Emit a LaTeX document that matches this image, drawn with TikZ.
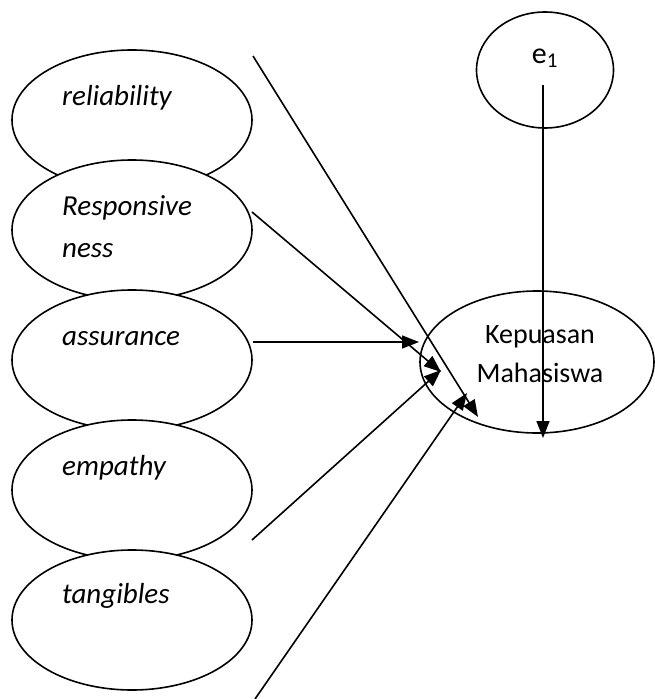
\documentclass[tikz,border=0pt]{standalone}
\usepackage{fontspec}
\setmainfont{Carlito}
\usetikzlibrary{shapes.geometric,arrows.meta}
\begin{document}
\begin{tikzpicture}[x=1pt,y=-1pt,
  oval/.style={ellipse,draw,line width=1.6pt,fill=white,inner sep=0pt},
  lbl/.style={anchor=base west,inner sep=0pt,font=\fontsize{29}{35}\selectfont\itshape},
  ctr/.style={anchor=base,inner sep=0pt,font=\fontsize{28}{34}\selectfont},
  arr/.style={line width=1.6pt,-{Triangle[length=17pt,width=13pt]}}]
\useasboundingbox (0,0) rectangle (655,699);

% independent variables, stacked top to bottom
\node[oval,minimum width=240pt,minimum height=140pt] (rel) at (132,120) {};
\node[lbl] (relt) at (62,105) {reliability};
\node[oval,minimum width=240pt,minimum height=140pt] (resp) at (132,230) {};
\node[lbl] (respt1) at (62,215) {Responsive};
\node[lbl] (respt2) at (62,257) {ness};
\node[oval,minimum width=240pt,minimum height=140pt] (asr) at (132,360) {};
\node[lbl] (asrt) at (62,345) {assurance};
\node[oval,minimum width=240pt,minimum height=140pt] (emp) at (132,490) {};
\node[lbl] (empt) at (62,475) {empathy};
\node[oval,minimum width=240pt,minimum height=140pt] (tan) at (132,620) {};
\node[lbl] (tant) at (62,603) {tangibles};

% dependent variable and error term
\node[oval,fill=none,minimum width=234pt,minimum height=142pt] (kep) at (537,362) {};
\node[ctr] (kept1) at (540,343) {Kepuasan};
\node[ctr] (kept2) at (540,382) {Mahasiswa};
\node[oval,fill=none,minimum width=137pt,minimum height=116pt] (err) at (545,70) {};
\node[anchor=base,inner sep=0pt,font=\fontsize{30}{36}\selectfont] (errt) at (545,63) {e\textsubscript{1}};

% connector end points
\coordinate (relA) at (253,56);
\coordinate (relB) at (478,417);
\coordinate (respA) at (252,212);
\coordinate (respB) at (441,372);
\coordinate (asrA) at (253,342);
\coordinate (asrB) at (419,342);
\coordinate (empA) at (252,540);
\coordinate (empB) at (441,370);
\coordinate (tanA) at (255,699);
\coordinate (tanB) at (467,393);
\coordinate (errA) at (543,85);
\coordinate (errB) at (543,438);

\draw[arr] (relA) -- (relB);
\draw[arr] (respA) -- (respB);
\draw[arr] (asrA) -- (asrB);
\draw[arr] (empA) -- (empB);
\draw[arr] (tanA) -- (tanB);
\draw[arr] (errA) -- (errB);
\end{tikzpicture}
\end{document}
